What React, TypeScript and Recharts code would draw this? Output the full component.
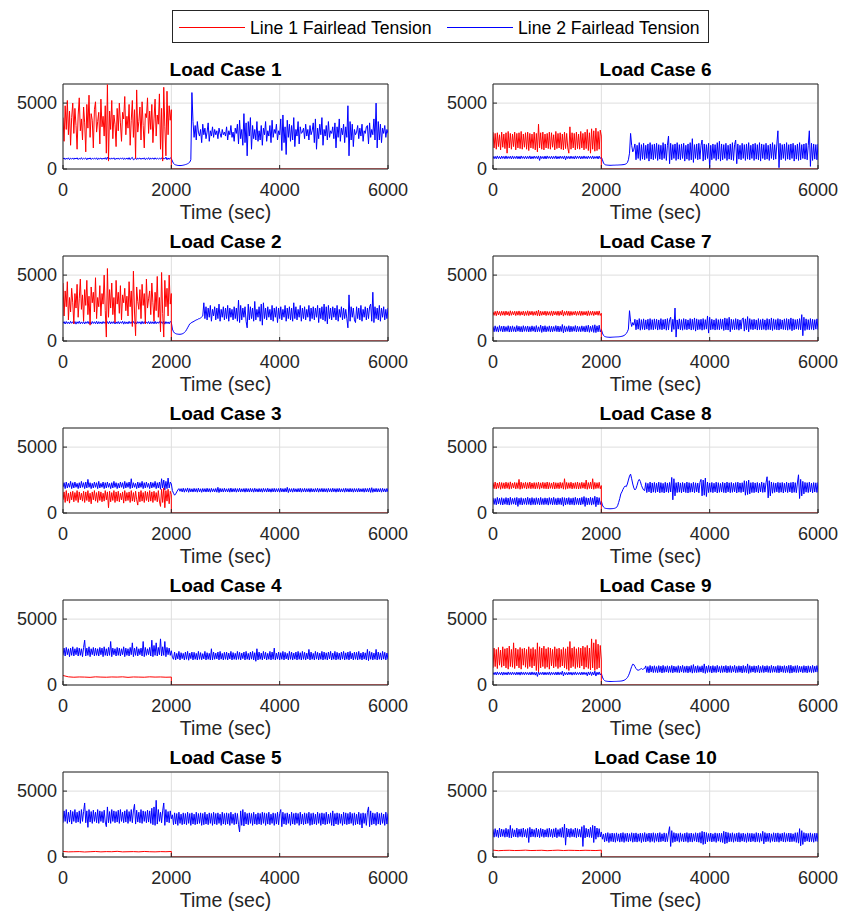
import { LineChart, Line, XAxis, YAxis, CartesianGrid, ReferenceLine } from "recharts";

const FONT = '"Liberation Sans", Arial, Helvetica, sans-serif';

const xTicks = [0, 2000, 4000, 6000];
const yTicks = [0, 5000];
const seriesNames = ["Line 1 Fairlead Tension", "Line 2 Fairlead Tension"];

// Line 1 tension, 0-2000 s (drops to zero after the line break at 2000 s)
const red1 = [
  3900, 2100, 4800, 3000, 5200, 2600, 4400, 1800, 3900, 5000,
  2700, 4600, 3300, 1500, 4100, 5400, 2900, 3800, 2200, 4700,
  3500, 1300, 4900, 3100, 5600, 2400, 4200, 3700, 1600, 4500,
  5100, 2800, 3600, 4300, 1900, 5300, 3200, 4000, 2500, 4800,
  1200, 6400, 600, 4400, 3000, 5200, 2300, 4100, 3400, 1700,
  4600, 2900, 5000, 3500, 2100, 4300, 3800, 5500, 2600, 4000,
  3100, 4900, 1800, 3700, 5200, 2400, 4500, 800, 6000, 2800,
  3600, 4700, 2200, 5100, 3300, 1600, 4200, 3900, 5400, 2700,
  4400, 3000, 4900, 2000, 3800, 5300, 2500, 4100, 3400, 5700,
  1500, 4600, 600, 6200, 3200, 1000, 5900, 2600, 4800, 3700,
  4500,
];
const red2 = [
  4400, 1900, 3800, 2600, 4500, 1600, 3300, 2200, 4000, 2900,
  1300, 3600, 2500, 4300, 1800, 3200, 4700, 2400, 3500, 1500,
  3900, 2700, 4600, 2000, 3400, 1200, 4100, 2900, 3700, 2200,
  4800, 1700, 3300, 2600, 4200, 1900, 3600, 2800, 5000, 2300,
  300, 5500, 1800, 3900, 2500, 4400, 2000, 3300, 1400, 4600,
  2800, 3700, 2100, 4200, 1600, 3500, 2900, 4000, 2300, 3400,
  1900, 4500, 2600, 3800, 1100, 5300, 2200, 400, 4100, 3000,
  2400, 3900, 1700, 4300, 2700, 3600, 1300, 4700, 2500, 3200,
  3800, 2000, 4400, 2900, 1500, 3700, 2300, 4900, 1800, 3300,
  700, 5200, 2100, 300, 4600, 2600, 4000, 1900, 5000, 2800,
  3600,
];
const red3 = [
  1000, 1600, 800, 1700, 900, 1500, 750, 1600, 1000, 1650,
  850, 1550, 950, 1700, 800, 1600, 1000, 1500, 900, 1650,
  800, 1600, 950, 1700, 850, 1500, 700, 1600, 1000, 1700,
  900, 1550, 800, 1650, 950, 1600, 850, 1500, 900, 1700,
  1000, 1600, 400, 1650, 850, 1550, 950, 1700, 800, 1600,
  900, 1650, 850, 1500, 1000, 1600, 750, 1700, 900, 1550,
  950, 1600, 800, 1700, 900, 1550, 850, 1650, 1000, 600,
  1600, 850, 1700, 900, 1550, 800, 1650, 950, 1600, 850,
  1700, 900, 1600, 800, 1650, 950, 1550, 850, 1700, 900,
  500, 1800, 800, 1900, 400, 1700, 900, 1800, 700, 1650,
  1400,
];
const red4 = [720, 620, 590, 610, 600, 580, 620, 600, 590, 610, 600, 620, 580, 610, 600, 590, 620, 600, 610, 590, 600];
const red5 = [420, 390, 400, 410, 380, 400, 420, 390, 410, 400, 430, 390, 400, 410, 390, 420, 400, 390, 410, 400, 420];
const red6 = [
  2800, 1600, 2700, 1500, 2750, 1700, 2600, 1450, 2800, 1650,
  2650, 1550, 2750, 1200, 2850, 1600, 2700, 1500, 2650, 1700,
  2800, 1450, 2700, 1600, 2750, 1550, 2850, 1500, 2650, 1650,
  2750, 1500, 2800, 1400, 2700, 1600, 2650, 1550, 2800, 1450,
  2700, 1300, 3400, 1600, 2750, 1500, 2800, 1450, 2650, 1600,
  2700, 1550, 2800, 1500, 2750, 1650, 2600, 1450, 2850, 1550,
  2700, 1600, 2750, 1500, 2650, 1450, 2800, 1550, 2700, 1600,
  1200, 3200, 1500, 2750, 1600, 2700, 1450, 2800, 1550, 2650,
  1500, 2850, 1600, 2700, 1450, 2800, 1550, 3000, 1400, 2750,
  1200, 3050, 1500, 2900, 1350, 3100, 1400, 2850, 1500, 2950,
  2500,
];
const red7 = [
  2200, 1950, 2250, 1920, 2280, 1980, 2240, 1930, 2260, 1960,
  2250, 1940, 2270, 1970, 2230, 1920, 2290, 1950, 2240, 1980,
  2260, 1930, 2250, 1960, 2280, 1940, 2230, 1970, 2270, 1920,
  2240, 1950, 2290, 1930, 2250, 1980, 2260, 1940, 2230, 1960,
  2280, 1920, 2340, 1900, 2260, 1950, 2240, 1970, 2270, 1930,
  2250, 1960, 2230, 1940, 2280, 1920, 2260, 1980, 2240, 1950,
  2270, 1930, 2250, 1970, 2330, 1890, 2240, 1960, 2280, 1940,
  2260, 1920, 2250, 1950, 2230, 1980, 2270, 1940, 2240, 1960,
  2280, 1930, 2260, 1950, 2240, 1970, 2250, 1920, 2290, 1940,
  2250, 1960, 2270, 1930, 2240, 1980, 2260, 1950, 2280, 1940,
  2100,
];
const red8 = [
  2300, 1850, 2350, 1820, 2280, 1880, 2330, 1800, 2310, 1860,
  2290, 1840, 2340, 1870, 2300, 1810, 2360, 1850, 2280, 1890,
  2320, 1830, 2300, 1860, 2550, 1800, 2340, 1850, 2290, 1880,
  2330, 1820, 2300, 1870, 2350, 1840, 2280, 1860, 2310, 1830,
  2300, 1860, 2340, 1810, 2290, 1880, 2330, 1850, 2300, 1840,
  2350, 1830, 2310, 1870, 2280, 1850, 2340, 1820, 2300, 1860,
  2290, 1840, 2330, 1880, 2300, 1810, 2600, 1800, 2320, 1850,
  2300, 1870, 2340, 1830, 2280, 1860, 2310, 1840, 2350, 1820,
  2290, 1850, 2330, 1880, 2300, 1840, 2500, 1800, 2310, 1860,
  2340, 1830, 2600, 1800, 2320, 1850, 2300, 1870, 2330, 1840,
  2080,
];
const red9 = [
  1300, 2800, 1400, 2700, 1250, 2850, 1500, 2650, 1350, 2900,
  1450, 2750, 1300, 2800, 1200, 2950, 1400, 2700, 1350, 3200,
  1250, 2800, 1450, 2700, 1300, 2850, 1200, 2750, 1500, 2800,
  1350, 2700, 1250, 2900, 1400, 2750, 1300, 2850, 1450, 2700,
  1100, 3200, 1000, 2900, 1300, 2800, 1400, 2950, 1250, 2750,
  1350, 2850, 1200, 2800, 1450, 2700, 1300, 2900, 1400, 2750,
  1250, 2800, 1350, 2700, 1450, 2850, 1300, 2750, 1200, 2900,
  1100, 3300, 1300, 2800, 1400, 2900, 1250, 2750, 1350, 2850,
  1300, 2800, 1450, 2950, 1200, 2850, 1350, 3000, 1250, 2800,
  1150, 3500, 1300, 3200, 1100, 3450, 1200, 3100, 1300, 3000,
  1900,
];
const red10 = [520, 480, 500, 510, 490, 500, 520, 490, 500, 510, 480, 500, 520, 490, 510, 500, 490, 510, 500, 490, 520];

// Line 2 tension, 0-2000 s
const blue1Pre = [
  760, 840, 720, 830, 740, 850, 710, 820, 750, 840,
  730, 830, 760, 850, 720, 820, 740, 860, 730, 810,
  770, 840, 700, 830, 750, 850, 720, 820, 760, 830,
  740, 850, 710, 820, 760, 840, 730, 830, 750, 860,
  720, 900, 700, 840, 740, 830, 760, 850, 710, 820,
  750, 840, 730, 830, 760, 850, 720, 820, 740, 840,
  730, 860, 710, 830, 880, 700, 740, 850, 720, 820,
  760, 840, 730, 830, 750, 850, 710, 820, 740, 860,
  720, 830, 760, 840, 730, 850, 740, 820, 750, 830,
  740, 850, 720, 830, 760, 900, 700, 840, 730, 850,
  780,
];
const blue2Pre = [
  1330, 1470, 1290, 1480, 1320, 1450, 1300, 1490, 1340, 1460,
  1310, 1480, 1280, 1460, 1330, 1500, 1300, 1450, 1320, 1470,
  1290, 1460, 1340, 1490, 1300, 1450, 1280, 1480, 1330, 1460,
  1310, 1500, 1290, 1470, 1320, 1450, 1300, 1480, 1340, 1460,
  1280, 1470, 1310, 1490, 1300, 1460, 1330, 1480, 1290, 1450,
  1320, 1480, 1300, 1460, 1340, 1500, 1280, 1470, 1310, 1450,
  1300, 1490, 1330, 1460, 1290, 1480, 1320, 1450, 1300, 1470,
  1340, 1460, 1280, 1490, 1310, 1470, 1300, 1450, 1330, 1480,
  1290, 1470, 1320, 1460, 1300, 1500, 1310, 1450, 1340, 1480,
  1300, 1460, 1330, 1490, 1280, 1470, 1320, 1450, 1300, 1480,
  1400,
];
const blue3Pre = [
  1950, 2300, 1850, 2350, 1900, 2250, 1950, 2400, 1850, 2300,
  1900, 2350, 1950, 2250, 1850, 2300, 1900, 2400, 1950, 2300,
  1850, 2350, 1900, 2550, 1950, 2300, 1850, 2250, 1900, 2350,
  1950, 2300, 1850, 2400, 1900, 2250, 1950, 2350, 1850, 2300,
  1900, 2350, 1950, 2250, 1850, 2300, 1900, 2400, 1950, 2300,
  1850, 2250, 1900, 2350, 1950, 2300, 1850, 2400, 1900, 2300,
  1950, 2350, 1850, 2600, 1900, 2300, 1950, 2250, 1850, 2350,
  1900, 2300, 1950, 2400, 1850, 2300, 1900, 2350, 1950, 2250,
  1850, 2350, 1900, 2300, 1950, 2400, 1850, 2300, 1900, 2350,
  1800, 2600, 1900, 2500, 1750, 2400, 1850, 2650, 1900, 2350,
  2200,
];
const blue4Pre = [
  2250, 2800, 2200, 2850, 2300, 2750, 2150, 2800, 2250, 2900,
  2200, 2750, 2300, 2850, 2200, 2800, 2250, 2750, 2150, 2850,
  3400, 2200, 2800, 2250, 2900, 2150, 2750, 2300, 2850, 2200,
  2800, 2250, 2750, 2200, 2850, 2300, 2800, 2150, 2900, 2250,
  2750, 2200, 2850, 2250, 3300, 2150, 2800, 2300, 2750, 2200,
  2850, 2250, 2800, 2200, 2750, 2300, 2900, 2150, 2800, 2250,
  2750, 2200, 2850, 2300, 3200, 2150, 2800, 2250, 2900, 2200,
  2750, 2300, 2800, 2200, 3300, 2150, 2850, 2250, 2750, 2300,
  2850, 2200, 3400, 2150, 3000, 2250, 3200, 2200, 2850, 2300,
  3500, 2200, 2900, 2250, 3300, 2150, 2850, 2300, 2800, 2250,
  2600,
];
const blue5Pre = [
  2600, 3500, 2700, 3600, 2550, 3400, 2650, 3550, 2500, 3450,
  2700, 3600, 2600, 3400, 2650, 3500, 2550, 3600, 2700, 3450,
  4100, 2600, 3500, 2250, 3600, 2650, 3450, 2550, 3550, 2700,
  3400, 2600, 3600, 2550, 3500, 2700, 3450, 2600, 3550, 2650,
  2300, 3800, 2600, 3450, 2550, 3600, 2700, 3500, 2600, 3450,
  2650, 3550, 2550, 3600, 2700, 3400, 2600, 3500, 2650, 3600,
  2550, 3450, 2700, 3600, 2600, 3500, 4000, 2500, 3550, 2650,
  3400, 2600, 3600, 2550, 3500, 2700, 3450, 2600, 3550, 2650,
  3500, 2550, 3700, 2450, 3800, 2400, 4300, 2500, 3600, 2700,
  3400, 2600, 3500, 4100, 2400, 3600, 2650, 3450, 2600, 3500,
  2900,
];
const blue6Pre = [
  980, 780, 960, 770, 990, 790, 950, 760, 980, 800,
  960, 770, 990, 780, 950, 800, 970, 760, 990, 780,
  950, 790, 980, 770, 960, 760, 990, 800, 950, 780,
  970, 770, 960, 790, 990, 760, 950, 780, 980, 800,
  960, 780, 990, 650, 970, 790, 950, 770, 980, 760,
  990, 800, 950, 780, 970, 770, 960, 790, 990, 760,
  950, 780, 980, 800, 960, 770, 990, 700, 970, 790,
  960, 770, 980, 790, 950, 760, 990, 780, 970, 800,
  980, 760, 960, 780, 990, 790, 950, 770, 980, 800,
  960, 780, 990, 770, 950, 800, 970, 760, 980, 790,
  900,
];
const blue7Pre = [
  1100, 700, 1150, 720, 1080, 680, 1170, 740, 1120, 690,
  1140, 710, 1090, 730, 1160, 680, 1110, 700, 1150, 720,
  1080, 690, 1170, 740, 1120, 700, 1100, 680, 1160, 730,
  1110, 720, 1140, 690, 1090, 710, 1150, 740, 1100, 680,
  1170, 700, 1080, 720, 1200, 650, 1130, 710, 1160, 690,
  1090, 730, 1150, 680, 1120, 700, 1100, 740, 1170, 710,
  1140, 690, 1110, 720, 1250, 620, 1150, 700, 1090, 730,
  1160, 680, 1120, 710, 1100, 740, 1170, 690, 1130, 720,
  1090, 700, 1150, 730, 1110, 680, 1160, 710, 1200, 660,
  1120, 720, 1180, 650, 1230, 640, 1150, 700, 1200, 690,
  880,
];
const blue8Pre = [
  1150, 650, 1100, 620, 1180, 680, 1120, 640, 1160, 610,
  1100, 660, 1170, 630, 1130, 600, 1190, 650, 1110, 670,
  1150, 620, 1180, 500, 1120, 640, 1160, 610, 1100, 660,
  1140, 630, 1190, 650, 1120, 600, 1170, 640, 1110, 620,
  1160, 660, 1130, 610, 1180, 640, 1100, 630, 1150, 650,
  1120, 600, 1170, 660, 1140, 620, 1190, 640, 1100, 610,
  1150, 650, 1120, 630, 1180, 520, 1160, 610, 1130, 660,
  1170, 620, 1110, 640, 1150, 600, 1190, 650, 1120, 630,
  1140, 610, 1180, 660, 1250, 500, 1160, 620, 1130, 640,
  1190, 600, 1150, 650, 1270, 480, 1200, 620, 1160, 640,
  900,
];
const blue9Pre = [
  960, 780, 970, 760, 990, 790, 950, 770, 980, 750,
  970, 780, 950, 760, 990, 790, 960, 770, 980, 790,
  950, 760, 980, 780, 970, 750, 990, 790, 960, 770,
  980, 790, 950, 770, 970, 760, 990, 780, 960, 750,
  970, 650, 990, 780, 950, 790, 980, 760, 970, 770,
  960, 780, 990, 750, 970, 790, 950, 770, 980, 760,
  990, 770, 960, 790, 1050, 690, 970, 780, 950, 760,
  980, 790, 970, 750, 960, 780, 990, 770, 950, 790,
  960, 760, 980, 780, 970, 790, 950, 700, 990, 770,
  1000, 720, 980, 760, 1050, 680, 970, 780, 990, 760,
  880,
];
const blue10Pre = [
  2100, 1500, 2150, 1550, 2050, 1480, 2200, 1520, 2120, 1560,
  2080, 1500, 2180, 1530, 2100, 1470, 2400, 1450, 2150, 1540,
  2060, 1520, 2190, 1490, 2110, 1550, 2140, 1500, 2200, 1530,
  2090, 1480, 2160, 1100, 2250, 1510, 2130, 1540, 2080, 1500,
  2200, 1520, 2100, 1470, 2170, 1550, 2120, 1490, 2060, 1530,
  2150, 1500, 2190, 1540, 2100, 1480, 2140, 1520, 2210, 1460,
  2080, 1550, 2160, 1500, 2250, 1480, 2500, 900, 2200, 1520,
  2130, 1490, 2170, 1540, 2090, 1510, 2200, 1470, 2150, 1530,
  2100, 1500, 2300, 800, 2400, 1450, 2180, 1520, 2120, 1490,
  2250, 1470, 2400, 1100, 2350, 1350, 2200, 1500, 2150, 1520,
  1900,
];

// Line 2 tension after the break, 2020-6000 s
const blue1Post = [
  600, 420, 350, 310, 290, 270, 265, 260, 265, 275,
  290, 310, 335, 360, 400, 450, 520, 700, 5800, 3600,
  2400, 3300, 2200, 3600, 2800, 2500, 3000, 2000, 3400, 2600,
  3100, 2300, 2800, 3500, 2100, 2900, 2500, 3200, 2400, 3000,
  2600, 2900, 2300, 3100, 2700, 2400, 3000, 2600, 2800, 2500,
  3200, 2200, 2900, 2600, 3300, 2400, 2800, 2100, 3100, 2700,
  3400, 1900, 3700, 2300, 3000, 1800, 4200, 2000, 3500, 1000,
  3600, 2500, 3900, 1500, 3300, 2300, 3000, 2200, 3600, 2100,
  2900, 2200, 3300, 1800, 3100, 2600, 3600, 2100, 2900, 2500,
  3300, 2000, 3700, 2400, 3000, 2700, 3400, 2200, 2900, 2600,
  3800, 1400, 4100, 2000, 3200, 1100, 3700, 2400, 3400, 2100,
  3300, 2200, 3900, 1700, 3000, 2500, 3600, 1900, 3200, 2700,
  2800, 3100, 2300, 3400, 2500, 3000, 2200, 3300, 2600, 2900,
  3500, 2000, 3800, 1500, 3100, 2300, 3400, 2600, 3900, 1800,
  3000, 2500, 3300, 2200, 3600, 2400, 2900, 2700, 3200, 2300,
  3500, 1600, 3200, 2400, 3800, 2100, 3100, 2600, 3400, 2000,
  3200, 2400, 4800, 1000, 3600, 2200, 3400, 1700, 3000, 2600,
  2800, 3300, 2300, 3100, 2500, 3400, 2100, 2900, 2700, 3200,
  3300, 1900, 3500, 2400, 3000, 2600, 3800, 2200, 5000, 1600,
  3600, 2200, 3400, 2000, 3100, 2700, 3300, 2400, 3000, 2700,
];
const blue2Post = [
  900, 700, 600, 560, 530, 520, 510, 510, 520, 540,
  580, 640, 720, 850, 1000, 1150, 1300, 1350, 1420, 1450,
  1500, 1550, 1600, 1620, 1680, 1700, 1750, 1820, 1900, 2900,
  1700, 2600, 1600, 2500, 1800, 2700, 1500, 2400, 1900, 2600,
  1600, 2500, 1700, 2800, 1500, 2400, 1800, 2600, 1600, 2500,
  1700, 2700, 1500, 2500, 1800, 2400, 1600, 2600, 1700, 2500,
  1500, 3100, 1400, 2700, 1600, 2500, 1800, 2600, 1500, 1000,
  2800, 1600, 2600, 1700, 2500, 1500, 3000, 1600, 2400, 1800,
  2600, 1500, 2800, 1200, 2900, 1700, 2500, 1600, 2600, 1800,
  2400, 1600, 2700, 1500, 2500, 1800, 2600, 1400, 2500, 1700,
  2600, 1600, 2400, 1800, 2700, 1500, 2500, 1700, 2600, 1600,
  2500, 1500, 2900, 1700, 2600, 1600, 2400, 1800, 2700, 1500,
  2500, 1700, 2600, 1600, 2400, 1800, 2700, 1500, 2500, 1700,
  2600, 1600, 2500, 1800, 2700, 1400, 2500, 1700, 2600, 1600,
  2800, 1500, 2600, 1300, 2700, 1700, 2500, 1600, 2600, 1800,
  2500, 1600, 2700, 1500, 2400, 1800, 2600, 1600, 2500, 1700,
  2400, 1700, 1000, 3500, 1500, 2600, 1800, 2500, 1600, 1400,
  2600, 1700, 2500, 1600, 2700, 1500, 2400, 1800, 2600, 1600,
  2500, 1700, 2600, 2800, 1500, 3700, 1400, 2600, 1700, 2500,
  1600, 2700, 1500, 2500, 1800, 2600, 1600, 2400, 1700, 2500,
];
const blue3Post = [
  1700, 1500, 1350, 1450, 1600, 1750, 1850, 1650, 1850, 1600,
  1880, 1580, 1850, 1620, 1900, 1570, 1860, 1600, 1840, 1590,
  1870, 1610, 1850, 1580, 1890, 1600, 1840, 1570, 1860, 1610,
  1850, 1590, 1880, 1600, 1850, 1580, 1870, 1610, 1840, 1600,
  1860, 1580, 1950, 1550, 1870, 1600, 1850, 1590, 1880, 1610,
  1840, 1600, 1860, 1580, 1890, 1590, 1850, 1610, 1870, 1580,
  1850, 1600, 1880, 1590, 1840, 1610, 1860, 1580, 1870, 1600,
  1850, 1590, 1870, 1600, 1850, 1580, 1880, 1610, 1840, 1590,
  1860, 1600, 1850, 1580, 1870, 1610, 1850, 1590, 1880, 1600,
  1840, 1580, 1860, 1600, 1870, 1590, 1850, 1610, 1860, 1580,
  1880, 1600, 1850, 1590, 1870, 1600, 1950, 1550, 1860, 1600,
  1850, 1580, 1870, 1610, 1840, 1590, 1860, 1600, 1880, 1580,
  1850, 1600, 1870, 1590, 1850, 1610, 1860, 1580, 1870, 1600,
  1840, 1590, 1860, 1600, 1880, 1580, 1850, 1610, 1870, 1590,
  1860, 1600, 1850, 1580, 1870, 1600, 1850, 1590, 1880, 1610,
  1850, 1580, 1860, 1600, 1870, 1590, 1840, 1600, 1860, 1580,
  1880, 1610, 1850, 1590, 1870, 1600, 1850, 1580, 1860, 1600,
  1850, 1590, 1870, 1600, 1840, 1610, 1860, 1580, 1870, 1600,
  1860, 1590, 1900, 1560, 1920, 1570, 1850, 1600, 1870, 1590,
  1850, 1600, 1860, 1580, 1870, 1610, 1840, 1590, 1860, 1600,
];
const blue4Post = [
  2100, 1950, 2500, 1900, 2400, 1980, 2550, 1900, 2450, 2000,
  2400, 1900, 2500, 1950, 2550, 1880, 2420, 2000, 2500, 1900,
  2480, 1950, 2400, 1900, 2550, 1950, 2460, 1920, 2380, 1980,
  2550, 1900, 2450, 1950, 2400, 1900, 2750, 1900, 2500, 1950,
  2420, 1980, 2500, 1900, 2550, 1960, 2400, 1900, 2480, 1950,
  2500, 1900, 2420, 1980, 2550, 1900, 2460, 1950, 2400, 1920,
  2550, 1950, 2480, 1900, 2420, 2000, 2500, 1900, 2550, 1950,
  2400, 1900, 2500, 1960, 2550, 1900, 2450, 1800, 2750, 1900,
  2500, 1950, 2420, 1900, 2550, 1980, 2480, 1900, 2400, 1950,
  2550, 1900, 2500, 1950, 2800, 1900, 2420, 1960, 2500, 1900,
  2450, 1950, 2550, 1900, 2480, 1980, 2400, 1900, 2550, 1950,
  2500, 1900, 2420, 1960, 2500, 1900, 2550, 1950, 2450, 1900,
  2550, 1950, 2480, 1900, 2420, 1980, 2700, 1900, 2500, 1950,
  2400, 1900, 2550, 1960, 2480, 1900, 2420, 1950, 2550, 1900,
  2500, 1950, 2440, 1900, 2500, 1980, 2550, 1900, 2420, 1950,
  2550, 1900, 2480, 1950, 2420, 1900, 2500, 1960, 2550, 1900,
  2440, 1950, 2500, 1900, 2550, 1980, 2420, 1900, 2500, 1950,
  2480, 1900, 2550, 1950, 2420, 1900, 2500, 1960, 2440, 1900,
  2700, 1850, 2550, 1950, 2480, 1900, 2420, 1950, 2700, 1900,
  2500, 1950, 2440, 1900, 2550, 1960, 2480, 1900, 2420, 1950,
];
const blue5Post = [
  3200, 2450, 3350, 2500, 3300, 2400, 3400, 2550, 3250, 2450,
  3350, 2500, 3300, 2450, 3400, 2550, 3300, 2400, 3350, 2500,
  3250, 2450, 3400, 2500, 3300, 2550, 3350, 2400, 3300, 2450,
  3400, 2500, 3250, 2450, 3350, 2550, 3300, 2400, 3400, 2500,
  3300, 2450, 3350, 2550, 3250, 2400, 3400, 2500, 3300, 2450,
  3350, 2500, 3300, 2400, 3400, 2550, 3250, 2450, 3350, 2500,
  3300, 2450, 1900, 3500, 2400, 3600, 2350, 3400, 2500, 3300,
  2450, 3350, 2550, 3300, 2400, 3400, 2500, 3250, 2450, 3350,
  2500, 3300, 2450, 3400, 2550, 3350, 2400, 3300, 2500, 3400,
  2450, 3250, 2550, 3350, 2400, 3300, 2500, 3400, 2450, 3300,
  3600, 2300, 3400, 2500, 3300, 2450, 3350, 2550, 3250, 2400,
  3400, 2500, 3300, 2450, 3350, 2550, 3300, 2400, 3400, 2500,
  3250, 2450, 3350, 2500, 3300, 2550, 3400, 2400, 3300, 2450,
  3350, 2500, 3250, 2450, 3400, 2550, 3300, 2400, 3350, 2500,
  3300, 2450, 3400, 2500, 3250, 2550, 3350, 2400, 3500, 2350,
  3300, 2500, 3350, 2450, 3300, 2550, 3250, 2400, 3400, 2500,
  3350, 2450, 3300, 2500, 3400, 2550, 3300, 2400, 3350, 2450,
  3250, 2500, 3400, 2450, 3300, 2200, 3350, 2550, 3300, 2400,
  3400, 3800, 2300, 3500, 2450, 3350, 2500, 3300, 2400, 3400,
  2500, 3300, 2450, 3350, 2550, 3250, 2400, 3400, 2500, 3300,
];
const blue6Post = [
  700, 450, 350, 310, 300, 290, 285, 280, 280, 285,
  290, 290, 295, 300, 300, 305, 310, 315, 320, 330,
  340, 360, 400, 480, 700, 1200, 2700, 1800, 1300, 1500,
  1900, 700, 1800, 800, 2000, 650, 1850, 750, 1950, 700,
  1800, 800, 1900, 600, 2000, 750, 1850, 700, 1900, 800,
  1950, 650, 1850, 750, 1800, 700, 2000, 800, 1900, 650,
  1800, 2500, 400, 1950, 700, 1850, 800, 1900, 650, 2000,
  750, 1850, 700, 1900, 800, 1950, 600, 1800, 750, 1900,
  650, 2000, 700, 2300, 500, 1850, 800, 1900, 700, 1950,
  750, 1800, 2200, 600, 1900, 700, 1850, 800, 1950, 100,
  1800, 700, 1900, 800, 1850, 650, 2000, 750, 2100, 600,
  1900, 700, 1850, 800, 1950, 650, 1800, 750, 1900, 700,
  2000, 650, 1850, 2200, 400, 1900, 750, 1800, 700, 1950,
  800, 1850, 650, 1900, 750, 2000, 700, 1800, 800, 1900,
  650, 1950, 750, 1850, 700, 2000, 600, 1900, 800, 1850,
  700, 1950, 750, 1800, 650, 1900, 800, 2000, 700, 1850,
  750, 1900, 2900, 100, 1950, 700, 1850, 800, 1900, 650,
  2000, 750, 1850, 700, 1900, 800, 1950, 600, 1800, 750,
  1900, 650, 2000, 700, 1850, 800, 1900, 750, 1950, 700,
  1800, 2900, 200, 1950, 650, 1900, 750, 1850, 700, 1900,
];
const blue7Post = [
  600, 420, 350, 320, 300, 290, 285, 280, 285, 290,
  295, 300, 305, 310, 315, 320, 330, 340, 360, 380,
  420, 480, 560, 700, 900, 2300, 1500, 1100, 1400, 1200,
  1650, 850, 1600, 900, 1700, 820, 1620, 880, 1680, 850,
  1600, 900, 1650, 820, 1700, 870, 1620, 850, 1680, 900,
  1650, 830, 1600, 880, 1700, 850, 1620, 900, 1660, 820,
  1700, 850, 1620, 1800, 700, 1650, 880, 2500, 300, 1600,
  900, 1680, 850, 1620, 820, 1700, 880, 1650, 850, 1600,
  900, 1700, 830, 1650, 870, 1750, 750, 1680, 850, 1620,
  880, 1650, 820, 1700, 870, 1620, 900, 1900, 600, 1800,
  850, 1650, 880, 1600, 830, 1700, 870, 1620, 850, 1680,
  900, 1650, 800, 1750, 850, 1700, 830, 1800, 700, 1650,
  870, 1620, 850, 1700, 880, 1650, 820, 1600, 900, 1680,
  1750, 750, 1680, 850, 1850, 700, 1700, 880, 1620, 850,
  1650, 900, 1600, 830, 1700, 870, 1620, 850, 1680, 880,
  1600, 820, 1700, 870, 1650, 850, 1750, 800, 1680, 880,
  1620, 850, 1700, 830, 1650, 900, 1600, 870, 1680, 850,
  1700, 820, 1650, 880, 1750, 780, 1680, 850, 1620, 900,
  1650, 870, 1700, 850, 2000, 400, 1800, 800, 1680, 870,
  1620, 850, 1700, 880, 1650, 830, 1620, 900, 1680, 850,
];
const blue8Post = [
  600, 450, 380, 350, 340, 330, 325, 320, 325, 330,
  340, 350, 380, 420, 550, 800, 1100, 1450, 1600, 1800,
  1950, 2050, 2000, 2200, 2500, 2800, 2950, 2600, 2200, 1900,
  1750, 1850, 2100, 2400, 2550, 2400, 2100, 1900, 1750, 1700,
  2300, 1550, 2250, 1600, 2350, 1520, 2280, 1580, 2320, 1550,
  2260, 1600, 2340, 1530, 2300, 1570, 2250, 1520, 2330, 1590,
  2280, 1550, 2320, 1600, 2700, 1000, 2600, 1300, 2300, 1550,
  2340, 1580, 2280, 1530, 2320, 1600, 2260, 1550, 2350, 1520,
  2300, 1570, 2250, 1590, 2330, 1540, 2290, 1600, 2270, 1530,
  2320, 2550, 1300, 2500, 1350, 2650, 1250, 2350, 1550, 2280,
  1580, 2320, 1540, 2260, 1600, 2340, 1520, 2300, 1570, 2250,
  1590, 2330, 1550, 2280, 1530, 2350, 1600, 2290, 1540, 2320,
  1570, 2260, 1600, 2310, 1520, 2340, 1580, 2280, 1550, 2300,
  1600, 2450, 1350, 2400, 1400, 2500, 1450, 2300, 1550, 2330,
  1540, 2280, 1590, 2320, 1530, 2260, 1600, 2350, 1560, 2290,
  1580, 2300, 2750, 1150, 2450, 1300, 2350, 1500, 2300, 1560,
  2270, 1600, 2330, 1540, 2290, 1580, 2320, 1520, 2260, 1590,
  2340, 1550, 2280, 1600, 2310, 1530, 2350, 1570, 2300, 1540,
  2280, 2900, 1100, 2550, 1300, 2400, 1450, 2320, 1580, 2300,
  1550, 2340, 1600, 2270, 1530, 2310, 1590, 2290, 1560, 2330,
];
const blue9Post = [
  600, 420, 340, 300, 285, 275, 270, 268, 265, 265,
  268, 270, 272, 275, 280, 285, 290, 300, 310, 330,
  360, 400, 470, 560, 700, 900, 1150, 1400, 1580, 1550,
  1400, 1250, 1150, 1120, 1150, 1200, 1250, 1180, 1220, 1260,
  1450, 950, 1400, 920, 1480, 980, 1420, 940, 1460, 960,
  1400, 930, 1470, 970, 1430, 910, 1490, 950, 1410, 980,
  1460, 940, 1420, 960, 1480, 920, 1440, 970, 1400, 950,
  1470, 930, 1430, 980, 1490, 940, 1410, 960, 1450, 920,
  1420, 970, 1480, 900, 1550, 950, 1430, 940, 1470, 960,
  1400, 980, 1460, 930, 1600, 880, 1440, 950, 1480, 970,
  1430, 910, 1470, 960, 1420, 940, 1490, 980, 1410, 930,
  1460, 950, 1440, 970, 1480, 920, 1430, 960, 1470, 940,
  1420, 980, 1490, 930, 1410, 950, 1460, 970, 1440, 910,
  1480, 960, 1430, 940, 1600, 880, 1470, 950, 1420, 980,
  1460, 930, 1440, 970, 1490, 910, 1410, 960, 1480, 940,
  1430, 980, 1470, 950, 1420, 930, 1490, 960, 1440, 970,
  1410, 940, 1480, 920, 1460, 980, 1430, 950, 1470, 930,
  1440, 960, 1490, 900, 1500, 920, 1420, 970, 1460, 940,
  1480, 950, 1430, 980, 1410, 930, 1470, 960, 1440, 920,
  1460, 970, 1420, 940, 1490, 950, 1430, 980, 1470, 960,
];
const blue10Post = [
  1350, 1750, 1150, 1800, 1200, 1850, 1100, 1780, 1180, 1820,
  1150, 1790, 1120, 1830, 1200, 1760, 1130, 1810, 1170, 1850,
  1110, 1780, 1190, 1820, 1140, 1770, 1200, 1840, 1120, 1800,
  1160, 1830, 1130, 1760, 1190, 1810, 1100, 1790, 1170, 1850,
  1140, 1770, 1200, 1820, 1120, 1800, 1180, 1840, 1110, 1780,
  1190, 1810, 1130, 1850, 1160, 1760, 1200, 1830, 1140, 1790,
  1170, 1820, 2300, 800, 2000, 1100, 1850, 1150, 1800, 1200,
  1780, 1120, 1830, 1190, 1760, 1140, 1810, 1180, 1850, 1110,
  1790, 1160, 1820, 1130, 1770, 1200, 1840, 1150, 1800, 1120,
  1850, 1050, 1950, 950, 1900, 1000, 1850, 1150, 1780, 1190,
  1820, 1140, 1760, 1180, 1830, 1110, 1790, 1200, 1810, 1130,
  1800, 1100, 1950, 1000, 1900, 1050, 1850, 1150, 1790, 1170,
  1840, 1120, 1770, 1190, 1810, 1150, 1850, 1130, 1780, 1200,
  1820, 1160, 1760, 1110, 1830, 1180, 1790, 1140, 1800, 1190,
  1770, 1130, 1850, 1170, 1810, 1120, 1780, 1200, 1950, 1000,
  1850, 1150, 1790, 1180, 1820, 1110, 1760, 1190, 1840, 1140,
  1800, 1170, 1830, 1120, 1770, 1200, 1810, 1150, 1850, 1130,
  1780, 1190, 1820, 1140, 1800, 1160, 1760, 1180, 1840, 1110,
  1850, 1050, 2150, 850, 2000, 950, 1850, 1150, 1800, 1200,
  1790, 1140, 1830, 1170, 1770, 1120, 1810, 1190, 1800, 1150,
];

type Pt = { t: number; v: number };

// samples before the break are spread evenly over 0-2000 s, after it over 2000-6000 s
const before = (vals: number[]): Pt[] => vals.map((v, i) => ({ t: (2000 * i) / (vals.length - 1), v }));
const after = (vals: number[]): Pt[] => vals.map((v, i) => ({ t: 2000 + (4000 * (i + 1)) / vals.length, v }));
const line1 = (vals: number[]): Pt[] => [...before(vals), { t: 2000, v: 0 }, { t: 6000, v: 0 }];
const line2 = (pre: number[], post: number[]): Pt[] => [...before(pre), ...after(post)];

const cases = [
  { title: "Load Case 1", red: red1, blue: line2(blue1Pre, blue1Post) },
  { title: "Load Case 2", red: red2, blue: line2(blue2Pre, blue2Post) },
  { title: "Load Case 3", red: red3, blue: line2(blue3Pre, blue3Post) },
  { title: "Load Case 4", red: red4, blue: line2(blue4Pre, blue4Post) },
  { title: "Load Case 5", red: red5, blue: line2(blue5Pre, blue5Post) },
  { title: "Load Case 6", red: red6, blue: line2(blue6Pre, blue6Post) },
  { title: "Load Case 7", red: red7, blue: line2(blue7Pre, blue7Post) },
  { title: "Load Case 8", red: red8, blue: line2(blue8Pre, blue8Post) },
  { title: "Load Case 9", red: red9, blue: line2(blue9Pre, blue9Post) },
  { title: "Load Case 10", red: red10, blue: line2(blue10Pre, blue10Post) },
];

const PLOT_W = 325;
const PLOT_H = 85;
const Y_AXIS_W = 50;
const RIGHT_PAD = 30;
const colLeft = [63, 493];
const rowTop = [84, 256, 428, 600, 772];
const Y_MAX = 6450;
const AXIS = "#262626";

function Panel({ title, red, blue, left, top }: { title: string; red: number[]; blue: Pt[]; left: number; top: number }) {
  return (
    <div style={{ position: "absolute", left: left - Y_AXIS_W, top: top - 5 }}>
      <div style={{
        position: "absolute", left: Y_AXIS_W, width: PLOT_W, top: -19, textAlign: "center",
        fontSize: 19, lineHeight: "19px", fontWeight: 700, color: "#000", whiteSpace: "nowrap"
      }}>
        {title}
      </div>
      <LineChart width={Y_AXIS_W + PLOT_W + RIGHT_PAD} height={PLOT_H + 35} margin={{ top: 5, right: RIGHT_PAD, bottom: 0, left: 0 }}>
        <CartesianGrid stroke="#dedede" />
        <XAxis
          dataKey="t"
          type="number"
          domain={[0, 6000]}
          ticks={xTicks}
          height={30}
          tickSize={-4}
          tickMargin={18}
          tickLine={{ stroke: AXIS }}
          axisLine={{ stroke: AXIS }}
          tick={{ fontSize: 18, fill: AXIS, fontFamily: FONT }}
          allowDataOverflow
        />
        <XAxis
          xAxisId="top"
          orientation="top"
          type="number"
          domain={[0, 6000]}
          ticks={xTicks}
          height={0}
          tickSize={-4}
          tickLine={{ stroke: AXIS }}
          axisLine={{ stroke: AXIS }}
          tick={false}
        />
        <YAxis
          type="number"
          domain={[0, Y_MAX]}
          ticks={yTicks}
          width={Y_AXIS_W}
          tickSize={-4}
          tickMargin={10}
          tickLine={{ stroke: AXIS }}
          axisLine={{ stroke: AXIS }}
          tick={{ fontSize: 18, fill: AXIS, fontFamily: FONT }}
          allowDataOverflow
        />
        <YAxis
          yAxisId="right"
          orientation="right"
          type="number"
          domain={[0, Y_MAX]}
          ticks={yTicks}
          width={0}
          tickSize={-4}
          tickLine={{ stroke: AXIS }}
          axisLine={{ stroke: AXIS }}
          tick={false}
        />
        {/* frame: top and right edges of the axes box */}
        <ReferenceLine y={Y_MAX} stroke={AXIS} />
        <ReferenceLine x={6000} stroke={AXIS} />
        <Line data={blue} dataKey="v" type="linear" stroke="#0000ff" strokeWidth={1} dot={false} activeDot={false} isAnimationActive={false} name={seriesNames[1]} />
        <Line data={line1(red)} dataKey="v" type="linear" stroke="#ff0000" strokeWidth={1} dot={false} activeDot={false} isAnimationActive={false} name={seriesNames[0]} />
      </LineChart>
      <div style={{
        position: "absolute", left: Y_AXIS_W, width: PLOT_W, top: 5 + PLOT_H + 34, textAlign: "center",
        fontSize: 19.5, lineHeight: "19.5px", color: AXIS, whiteSpace: "nowrap"
      }}>
        Time (sec)
      </div>
    </div>
  );
}

export default function App() {
  return (
    <div style={{ position: "absolute", left: 0, top: 0, width: 844, height: 913, background: "#fff", fontFamily: FONT }}>
      {/* shared legend */}
      <div style={{
        position: "absolute", left: 172, top: 10, width: 535, height: 31,
        border: `1px solid ${AXIS}`, background: "#fff"
      }}>
        <svg width={535} height={31} style={{ position: "absolute", left: 0, top: 0 }}>
          <line x1={6} x2={72} y1={16.5} y2={16.5} stroke="#ff0000" strokeWidth={1.2} />
          <line x1={274} x2={340} y1={16.5} y2={16.5} stroke="#0000ff" strokeWidth={1.2} />
        </svg>
        <div style={{ position: "absolute", left: 77, top: 9, fontSize: 17.6, lineHeight: "17px", color: "#000", whiteSpace: "nowrap" }}>
          {seriesNames[0]}
        </div>
        <div style={{ position: "absolute", left: 345, top: 9, fontSize: 17.6, lineHeight: "17px", color: "#000", whiteSpace: "nowrap" }}>
          {seriesNames[1]}
        </div>
      </div>
      {cases.map((c, i) => (
        <Panel
          key={c.title}
          title={c.title}
          red={c.red}
          blue={c.blue}
          left={colLeft[Math.floor(i / 5)]}
          top={rowTop[i % 5]}
        />
      ))}
    </div>
  );
}
